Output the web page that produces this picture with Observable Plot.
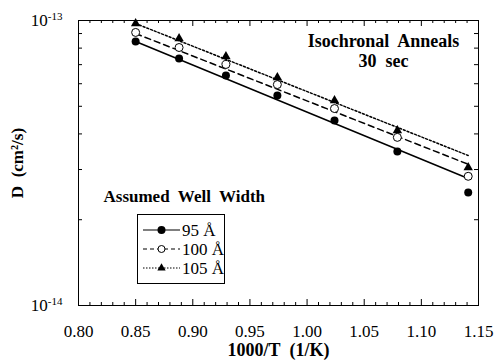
<!DOCTYPE html>
<html><head><meta charset="utf-8">
<script src="https://cdn.jsdelivr.net/npm/d3@7"></script>
<script src="https://cdn.jsdelivr.net/npm/@observablehq/plot@0.6"></script>
<style>
body{margin:0;background:#fff}
#chart svg{overflow:visible}
</style>
</head><body><div id="chart"></div>
<script>
// Inverse temperature (1000/T, 1/K)
const invT = [0.850, 0.888, 0.929, 0.974, 1.024, 1.079, 1.141];
// Diffusion coefficient D (cm^2/s) for each assumed well width
const d95  = [8.44e-14, 7.35e-14, 6.41e-14, 5.46e-14, 4.46e-14, 3.47e-14, 2.49e-14];
const d100 = [9.08e-14, 8.04e-14, 7.01e-14, 5.96e-14, 4.91e-14, 3.89e-14, 2.84e-14];
const d105 = [9.76e-14, 8.65e-14, 7.48e-14, 6.31e-14, 5.24e-14, 4.11e-14, 3.05e-14];
// Fit lines (endpoints)
const fitX   = [0.850, 1.141];
const fit95  = [8.44e-14, 2.79e-14];
const fit100 = [9.00e-14, 3.13e-14];
const fit105 = [9.76e-14, 3.36e-14];
const seriesNames = ["95 Å", "100 Å", "105 Å"];
// Ticks
const xMajor = [0.80, 0.85, 0.90, 0.95, 1.00, 1.05, 1.10, 1.15];
const xMinor = d3.range(81, 115).filter(v => v % 5 !== 0).map(v => v / 100);
const yMajor = [1e-14, 1e-13];
const yMinor = [2e-14, 3e-14, 4e-14, 5e-14, 6e-14, 7e-14, 8e-14, 9e-14];

const toPts = ys => invT.map((x, i) => ({x, y: ys[i]}));
const toFit = ys => fitX.map((x, i) => ({x, y: ys[i]}));

const F = "'Liberation Serif', 'Times New Roman', serif";
const NB = "\u00a0";
const W = 495, H = 360, ML = 78, MR = 17, MT = 20, MB = 55;
const FW = W - ML - MR, FH = H - MT - MB;

const chart = Plot.plot({
  width: W, height: H,
  marginLeft: ML, marginRight: MR, marginTop: MT, marginBottom: MB,
  style: {fontSize: "17px", background: "#fff", color: "#000"},
  x: {domain: [0.80, 1.15]},
  y: {type: "log", domain: [1e-14, 1e-13]},
  marks: [
    // inward tick marks
    Plot.tickX(xMajor, {x: d => d, insetTop: FH - 6, stroke: "#000"}),
    Plot.tickX(xMajor, {x: d => d, insetBottom: FH - 6, stroke: "#000"}),
    Plot.tickX(xMinor, {x: d => d, insetTop: FH - 3, stroke: "#000"}),
    Plot.tickX(xMinor, {x: d => d, insetBottom: FH - 3, stroke: "#000"}),
    Plot.tickY(yMinor, {y: d => d, insetRight: FW - 4, stroke: "#000"}),
    Plot.tickY(yMinor, {y: d => d, insetLeft: FW - 4, stroke: "#000"}),
    // tick labels
    Plot.axisX(xMajor, {anchor: "bottom", tickSize: 0, tickPadding: 19, tickFormat: d3.format(".2f"), label: null, fontSize: 17}),
    Plot.axisY(yMajor, {anchor: "left", tickSize: 0, tickPadding: 16, tickFormat: d => "10|" + Math.round(Math.log10(d)), label: null, fontSize: 17}),
    Plot.frame({stroke: "#000", strokeWidth: 1}),
    // fit lines
    Plot.line(toFit(fit95),  {x: "x", y: "y", stroke: "#000", strokeWidth: 1.5}),
    Plot.line(toFit(fit100), {x: "x", y: "y", stroke: "#000", strokeWidth: 1.5, strokeDasharray: "6,4"}),
    Plot.line(toFit(fit105), {x: "x", y: "y", stroke: "#000", strokeWidth: 1.5, strokeDasharray: "2,2"}),
    // data points
    Plot.dot(toPts(d95),  {x: "x", y: "y", r: 4, fill: "#000", stroke: "none"}),
    Plot.dot(toPts(d100), {x: "x", y: "y", r: 4, fill: "#fff", stroke: "#000", strokeWidth: 1}),
    Plot.dot(toPts(d105), {x: "x", y: "y", r: 3.5, symbol: "triangle", fill: "#000", stroke: "none"}),
    // annotations
    Plot.text(["Isochronal" + NB + " Anneals"], {frameAnchor: "top-left", dx: 305, dy: 26, lineAnchor: "bottom", textAnchor: "middle", fontWeight: "bold", fontSize: 18}),
    Plot.text(["30" + NB + " sec"], {frameAnchor: "top-left", dx: 305, dy: 46, lineAnchor: "bottom", textAnchor: "middle", fontWeight: "bold", fontSize: 18}),
    Plot.text(["Assumed" + NB + " Well" + NB + " Width"], {frameAnchor: "top-left", dx: 25, dy: 181, lineAnchor: "bottom", textAnchor: "start", fontWeight: "bold", fontSize: 17}),
    Plot.text(["1000/T" + NB + " (1/K)"], {frameAnchor: "bottom", dy: 50, lineAnchor: "bottom", textAnchor: "middle", fontWeight: "bold", fontSize: 18}),
    Plot.text(["D" + NB + " (cm²/s)"], {frameAnchor: "left", dx: -61, rotate: -90, lineAnchor: "middle", textAnchor: "middle", fontWeight: "bold", fontSize: 17})
  ]
});

const svg = d3.select(chart);
// superscript exponents in y tick labels
svg.selectAll("text").each(function() {
  const t = d3.select(this);
  const s = t.text();
  if (/^10\|/.test(s)) {
    const exp = s.split("|")[1];
    t.text("10");
    t.append("tspan").attr("dy", "-0.55em").attr("font-size", "11px").text(exp);
  }
});

// legend
const lg = svg.append("g").attr("font-size", 17).attr("text-anchor", "start");
lg.append("rect").attr("x", 137.5).attr("y", 214.5).attr("width", 87).attr("height", 69)
  .attr("fill", "#fff").attr("stroke", "#000").attr("stroke-width", 1);
const rowsY = [230, 249, 268];
const dashes = [null, "4,3", "1.5,1.5"];
rowsY.forEach((yy, i) => {
  const l = lg.append("line").attr("x1", 143).attr("x2", 180).attr("y1", yy).attr("y2", yy)
    .attr("stroke", "#000").attr("stroke-width", 1.2);
  if (dashes[i]) l.attr("stroke-dasharray", dashes[i]);
  if (i === 0) lg.append("circle").attr("cx", 161.5).attr("cy", yy).attr("r", 4).attr("fill", "#000");
  if (i === 1) lg.append("circle").attr("cx", 161.5).attr("cy", yy).attr("r", 3.5).attr("fill", "#fff").attr("stroke", "#000");
  if (i === 2) lg.append("path").attr("transform", `translate(161.5,${yy})`).attr("d", d3.symbol(d3.symbolTriangle, 30)()).attr("fill", "#000");
  lg.append("text").attr("x", 182).attr("y", yy + 6).text(seriesNames[i]);
});

svg.attr("font-family", F).style("font-family", F);
svg.selectAll("text, g").style("font-family", F);

document.getElementById("chart").append(chart);
</script>
</body></html>
